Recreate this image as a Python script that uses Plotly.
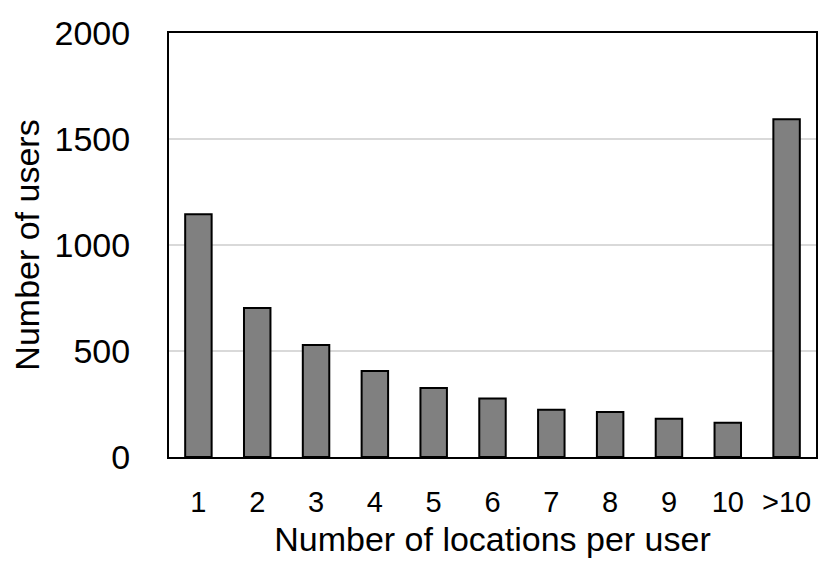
import plotly.graph_objects as go

categories = ["1", "2", "3", "4", "5", "6", "7", "8", "9", "10", ">10"]
users = [1145, 703, 528, 406, 325, 276, 223, 212, 181, 162, 1593]
y_ticks = [0, 500, 1000, 1500, 2000]

FONT = "Liberation Sans"

fig = go.Figure(
    go.Bar(
        x=categories,
        y=users,
        marker=dict(color="#808080", line=dict(color="black", width=2)),
    )
)

# the page body adds an 8px offset, so margins are trimmed by that amount
fig.update_layout(
    width=830,
    height=565,
    margin=dict(l=161, r=22, t=25, b=116),
    plot_bgcolor="white",
    paper_bgcolor="white",
    bargap=0.55,
    showlegend=False,
    font=dict(family=FONT, size=30, color="black"),
)

fig.update_xaxes(
    type="category",
    automargin=False,
    showline=True,
    linecolor="black",
    linewidth=2,
    mirror=True,
    ticks="",
    ticklabelstandoff=18,
    tickfont=dict(size=29),
    title=dict(text="Number of locations per user", font=dict(size=34), standoff=10),
)

fig.update_yaxes(
    range=[0, 2000],
    tickvals=y_ticks,
    automargin=False,
    showline=True,
    linecolor="black",
    linewidth=2,
    mirror=True,
    ticks="",
    showgrid=True,
    gridcolor="#d9d9d9",
    gridwidth=2,
    zeroline=False,
    ticklabelstandoff=30,
    tickfont=dict(size=34),
    title=dict(text="Number of users", font=dict(size=34), standoff=9),
)

fig.write_html("out.html")
